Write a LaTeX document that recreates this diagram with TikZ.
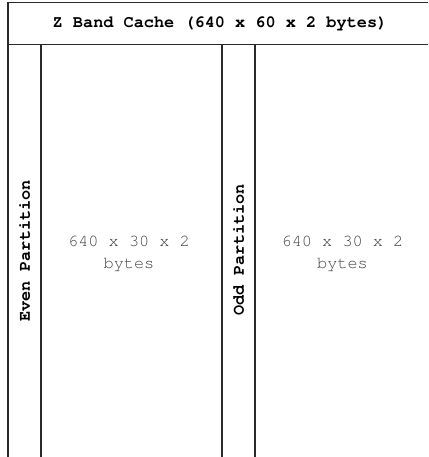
\documentclass[tikz,border=0pt]{standalone}
\usepackage[T1]{fontenc}
\usepackage{courier}
\definecolor{linec}{HTML}{2A2A2A}
\definecolor{bodyc}{HTML}{444444}
\begin{document}
\begin{tikzpicture}[x=1pt,y=-1pt,
  boxline/.style={draw=linec,line width=1.6pt},
  headtxt/.style={font=\ttfamily\bfseries\fontsize{16.9}{20}\selectfont,text=black,inner sep=0pt},
  sidetxt/.style={font=\ttfamily\bfseries\fontsize{16.9}{20}\selectfont,text=black,inner sep=0pt,rotate=90},
  bodytxt/.style={font=\ttfamily\fontsize{16.9}{22}\selectfont,text=bodyc,inner sep=0pt,align=center}]
\useasboundingbox (0,0) rectangle (428,457);
\clip (0,0) rectangle (428,457);
\fill[white] (0,0) rectangle (428,457);
\draw[boxline] (8,2.6) rectangle (432,480);
\draw[boxline] (8,44.5) -- (432,44.5);
\draw[boxline] (41,44.5) -- (41,480);
\draw[boxline] (222,44.5) -- (222,480);
\draw[boxline] (255,44.5) -- (255,480);
\node[headtxt] (head) at (220,23.5) {Z Band Cache (640 x 60 x 2 bytes)};
\node[sidetxt] (even) at (24.5,251) {Even Partition};
\node[sidetxt] (odd) at (238.5,250) {Odd Partition};
\node[bodytxt] (evenbody) at (129,253) {640 x 30 x 2\\bytes};
\node[bodytxt] (oddbody) at (342.5,253) {640 x 30 x 2\\bytes};
\end{tikzpicture}
\end{document}
